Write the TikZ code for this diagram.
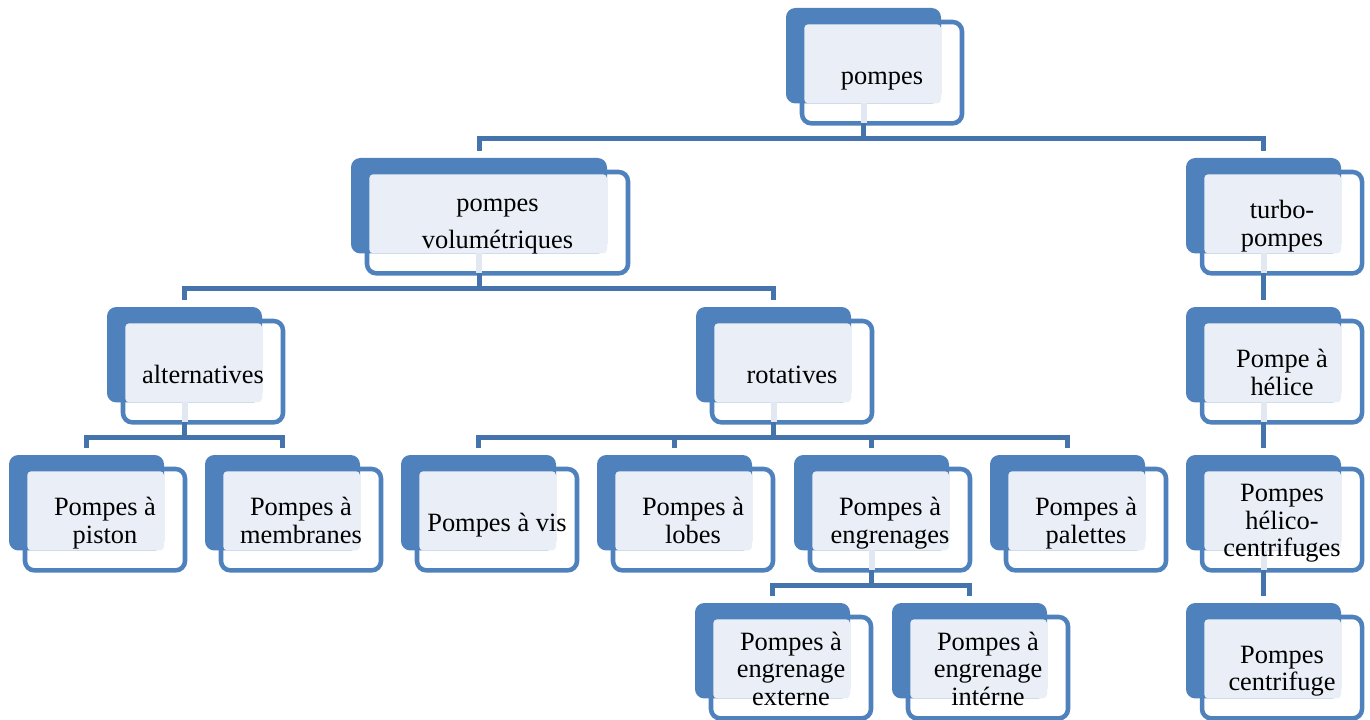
\documentclass[tikz,border=0pt]{standalone}
\usepackage{fontspec}
\setmainfont{Liberation Serif}
\usetikzlibrary{calc}

\definecolor{boxblue}{HTML}{4F81BD}
\definecolor{linkblue}{HTML}{4574AC}
\definecolor{softfill}{HTML}{EAEFF7}
\definecolor{stemfill}{HTML}{E2E8F2}

% labels sit above shapes and connectors
\pgfdeclarelayer{labels}
\pgfsetlayers{main,labels}

% strut that gives every label line the same height and depth
\newcommand\lblstrut{\rule[-4.7pt]{0pt}{20.6pt}}

\tikzset{
  frontbox/.style={draw=boxblue, fill=white, line width=3.4pt, rounded corners=7pt,
    minimum height=76pt, inner sep=0pt, outer sep=0pt},
  backbox/.style={fill=boxblue, rounded corners=7pt, minimum height=71.6pt,
    inner sep=0pt, outer sep=0pt},
  softpatch/.style={fill=softfill, rounded corners=3pt},
  labeltext/.style={font=\fontsize{19.8}{20.6}\selectfont, align=center,
    inner sep=0pt, text=black, yshift=-3pt,
    execute at begin node=\lblstrut, execute at end node=\lblstrut},
  link/.style={draw=linkblue, line width=3.75pt},
  stemline/.style={draw=stemfill, line width=4.5pt},
}

% #1 name, #2 x, #3 y (top-left of the solid tab), #4 tab width, #5 label
\newcommand\pumpbox[5]{%
  \node[frontbox, minimum width={(#4+5)*0.75pt}, anchor=north west] (#1-f) at (#2+16,#3+14) {};
  \node[backbox, minimum width={#4*0.75pt}, anchor=north west] (#1-b) at (#2,#3) {};
  \fill[softpatch] ($(#1-f.north west)+(1.7pt,-1.7pt)$) rectangle (#1-b.south east);
  \begin{pgfonlayer}{labels}
    \node[labeltext] (#1) at (#1-f.center) {#5};
  \end{pgfonlayer}
}

% pale stub inside a parent box, below its tab
\newcommand\stub[1]{%
  \draw[stemline] (#1-b.south) -- (#1-b.south |- #1-f.south);
}

% elbow connector from parent to child
\newcommand\branch[2]{%
  \draw[link] (#1-b.south |- #1-f.south) -- ++(0,15) -| ($(#2-b.north)+(0,5.25pt)$);
}

\begin{document}
\begin{tikzpicture}[x=0.75pt, y=-0.75pt]
  \useasboundingbox (0,0) rectangle (1370,720);

  \pumpbox{root}{786}{8}{155}{pompes}
  \pumpbox{vol}{351}{158}{256}{pompes\\[6.8pt]volumétriques}
  \pumpbox{turbo}{1186}{158}{155}{turbo-\\pompes}
  \pumpbox{alt}{107}{307}{155}{alternatives}
  \pumpbox{rot}{696}{307}{155}{rotatives}
  \pumpbox{helice}{1186}{307}{155}{Pompe à\\hélice}
  \pumpbox{piston}{9}{455}{155}{Pompes à\\piston}
  \pumpbox{membr}{205}{455}{155}{Pompes à\\membranes}
  \pumpbox{vis}{401}{455}{155}{Pompes à vis}
  \pumpbox{lobes}{597}{455}{155}{Pompes à\\lobes}
  \pumpbox{engr}{794}{455}{155}{Pompes à\\engrenages}
  \pumpbox{palet}{990}{455}{155}{Pompes à\\palettes}
  \pumpbox{helico}{1186}{455}{155}{Pompes\\hélico-\\centrifuges}
  \pumpbox{ext}{695}{603}{155}{Pompes à\\engrenage\\externe}
  \pumpbox{int}{892}{603}{155}{Pompes à\\engrenage\\intérne}
  \pumpbox{centri}{1186}{603}{155}{Pompes\\centrifuge}

  \foreach \p in {root,vol,alt,rot,engr,turbo,helice,helico} {\stub{\p}}

  \branch{root}{vol}
  \branch{root}{turbo}
  \branch{vol}{alt}
  \branch{vol}{rot}
  \branch{alt}{piston}
  \branch{alt}{membr}
  \branch{rot}{vis}
  \branch{rot}{lobes}
  \branch{rot}{engr}
  \branch{rot}{palet}
  \branch{engr}{ext}
  \branch{engr}{int}
  \branch{turbo}{helice}
  \branch{helice}{helico}
  \branch{helico}{centri}
\end{tikzpicture}
\end{document}
